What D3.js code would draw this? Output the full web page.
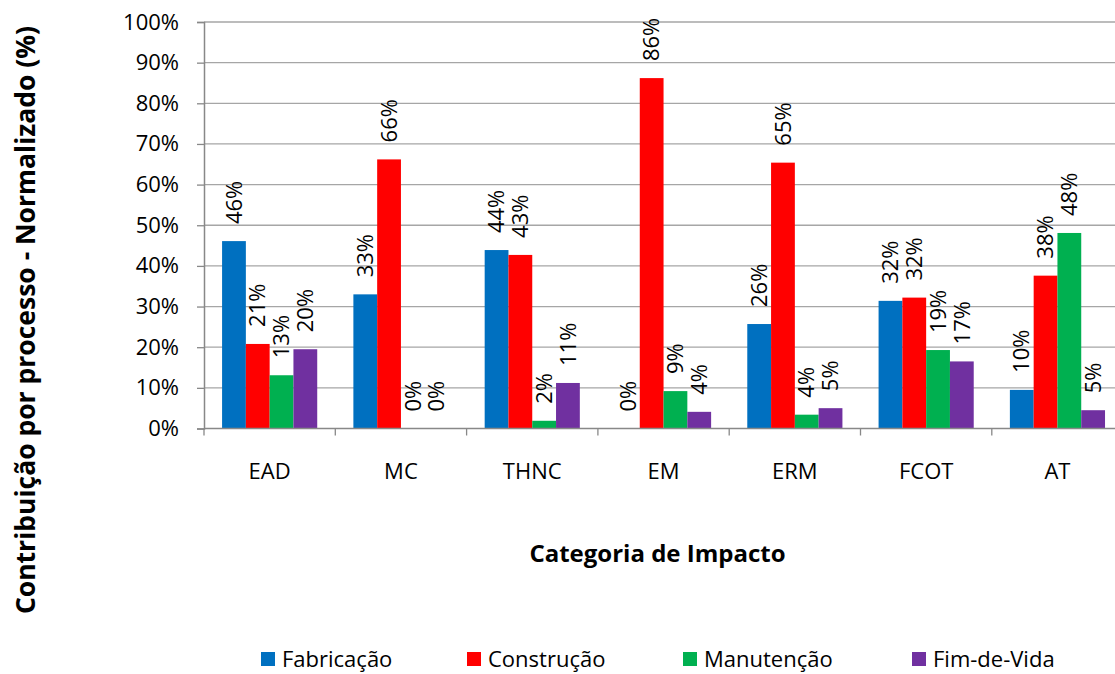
<!DOCTYPE html>
<html>
<head>
<meta charset="utf-8">
<script src="https://cdn.jsdelivr.net/npm/d3@7"></script>
<style>
  body { margin: 0; background: #fff; }
  svg { display: block; font-family: "Open Sans", sans-serif; }
</style>
</head>
<body>
<svg id="chart" width="1115" height="674"></svg>
<script>
// categories and series
let categories = ["EAD", "MC", "THNC", "EM", "ERM", "FCOT", "AT"];
let seriesNames = ["Fabricação", "Construção", "Manutenção", "Fim-de-Vida"];
let colors = ["#0070C0", "#FF0000", "#00B050", "#7030A0"];

// values (%)
let fabricacao = [46.1, 33.0, 43.9, 0, 25.7, 31.4, 9.5];
let construcao = [20.8, 66.2, 42.7, 86.2, 65.4, 32.2, 37.6];
let manutencao = [13.1, 0, 1.9, 9.2, 3.4, 19.3, 48.1];
let fimDeVida = [19.5, 0, 11.2, 4.1, 5.0, 16.5, 4.5];
// labels as shown on the chart
let fabricacaoLbl = ["46%", "33%", "44%", "0%", "26%", "32%", "10%"];
let construcaoLbl = ["21%", "66%", "43%", "86%", "65%", "32%", "38%"];
let manutencaoLbl = ["13%", "0%", "2%", "9%", "4%", "19%", "48%"];
let fimDeVidaLbl = ["20%", "0%", "11%", "4%", "5%", "17%", "5%"];
let yTicks = [0, 10, 20, 30, 40, 50, 60, 70, 80, 90, 100];

let values = [fabricacao, construcao, manutencao, fimDeVida];
let labels = [fabricacaoLbl, construcaoLbl, manutencaoLbl, fimDeVidaLbl];

let svg = d3.select("#chart");

let x0 = d3.scaleBand().domain(categories).range([204, 204 + 7 * 131.3]);
let x1 = d3.scaleBand().domain(d3.range(4)).range([0, x0.bandwidth()]).paddingOuter(0.76);
let y = d3.scaleLinear().domain([0, 100]).range([428.5, 22]);

// gridlines
svg.append("g").selectAll("line").data(yTicks.slice(1)).join("line")
  .attr("x1", 204).attr("x2", 1115)
  .attr("y1", d => y(d)).attr("y2", d => y(d))
  .attr("stroke", "#a6a6a6").attr("stroke-width", 1.3);

// y axis
let yAxis = svg.append("g").attr("transform", "translate(204,0)")
  .call(d3.axisLeft(y).tickValues(yTicks).tickSize(7).tickPadding(18).tickFormat(d => d + "%"));
yAxis.select(".domain").attr("stroke", "#888").attr("stroke-width", 1.5);
yAxis.selectAll(".tick line").attr("stroke", "#888").attr("stroke-width", 1.3);
yAxis.selectAll("text").attr("font-size", 22).attr("fill", "#000").attr("font-family", "Open Sans");

// bars
categories.forEach((c, ci) => {
  let g = svg.append("g").attr("transform", `translate(${x0(c)},0)`);
  values.forEach((vals, si) => {
    let v = vals[ci];
    if (v > 0) {
      g.append("rect")
        .attr("x", x1(si)).attr("width", x1.bandwidth())
        .attr("y", y(v)).attr("height", y(0) - y(v))
        .attr("fill", colors[si]);
    }
    let cx = x1(si) + x1.bandwidth() / 2;
    let ty = y(v) - 17;
    g.append("text")
      .attr("transform", `translate(${cx},${ty}) rotate(-90)`)
      .attr("dy", "0.35em")
      .attr("font-size", 22)
      .text(labels[si][ci]);
  });
});

// x axis
let xAxis = svg.append("g").attr("transform", "translate(0,428.5)");
xAxis.append("line").attr("x1", 204).attr("x2", 1115).attr("stroke", "#888").attr("stroke-width", 1.5);
xAxis.selectAll("line.tk").data(categories.concat(["end"])).join("line").attr("class", "tk")
  .attr("x1", (d, i) => 204 + i * x0.step()).attr("x2", (d, i) => 204 + i * x0.step())
  .attr("y1", 0).attr("y2", 7).attr("stroke", "#888").attr("stroke-width", 1.3);
xAxis.selectAll("text").data(categories).join("text")
  .attr("x", d => x0(d) + x0.bandwidth() / 2).attr("y", 50)
  .attr("text-anchor", "middle").attr("font-size", 22)
  .text(d => d);

// axis titles
svg.append("text").attr("x", 657.5).attr("y", 562)
  .attr("text-anchor", "middle").attr("font-size", 24).attr("font-weight", "bold")
  .text("Categoria de Impacto");
svg.append("text").attr("transform", "translate(26,320) rotate(-90)")
  .attr("dy", "0.35em")
  .attr("text-anchor", "middle").attr("font-size", 26.5).attr("font-weight", "bold")
  .text("Contribuição por processo - Normalizado (%)");

// legend
let legendX = [261, 467, 683, 912];
let legend = svg.append("g");
seriesNames.forEach((s, i) => {
  legend.append("rect").attr("x", legendX[i]).attr("y", 652).attr("width", 14).attr("height", 14).attr("fill", colors[i]);
  legend.append("text").attr("x", legendX[i] + 21).attr("y", 667).attr("font-size", 22).text(s);
});
</script>
</body>
</html>
